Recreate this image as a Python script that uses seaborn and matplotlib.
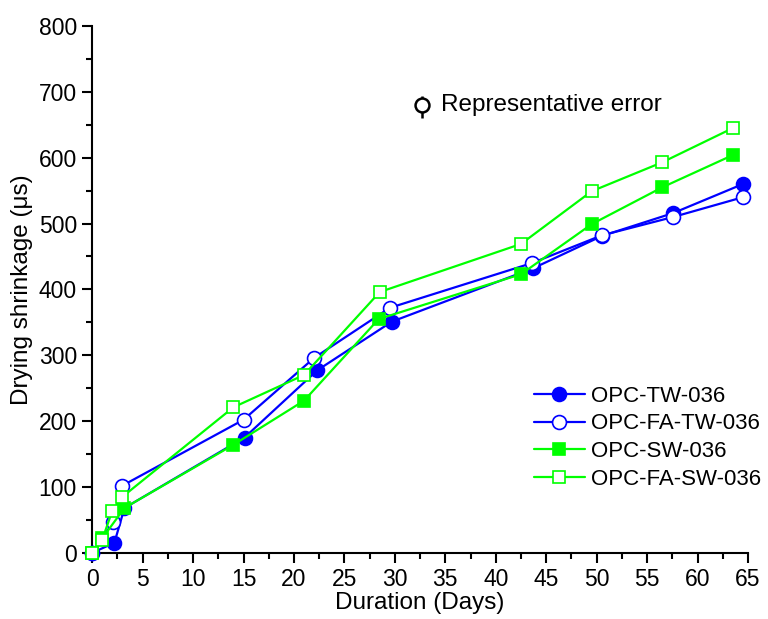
import pandas as pd
import matplotlib
matplotlib.use("Agg")
import matplotlib.pyplot as plt
import seaborn as sns
from matplotlib.ticker import MultipleLocator

sns.set_theme(style="ticks")
plt.rcParams["font.family"] = ["Liberation Sans", "DejaVu Sans"]
plt.rcParams["text.color"] = "black"
plt.rcParams["axes.labelcolor"] = "black"
plt.rcParams["xtick.color"] = "black"
plt.rcParams["ytick.color"] = "black"

tw_days = [0, 2.2, 3.2, 15.1, 22.3, 29.7, 43.7, 50.5, 57.6, 64.5]
tw_vals = [0, 15, 68, 175, 277, 351, 432, 481, 516, 560]

fa_tw_days = [0, 2.1, 3.0, 15.0, 22.0, 29.5, 43.6, 50.5, 57.6, 64.5]
fa_tw_vals = [0, 47, 102, 202, 296, 372, 440, 482, 510, 540]

sw_days = [0, 1.0, 3.2, 14.0, 21.0, 28.4, 42.5, 49.5, 56.5, 63.5]
sw_vals = [0, 22, 68, 164, 231, 355, 423, 499, 555, 604]

fa_sw_days = [0, 1.0, 2.0, 3.0, 14.0, 21.0, 28.5, 42.5, 49.5, 56.5, 63.5]
fa_sw_vals = [0, 20, 64, 85, 221, 270, 396, 469, 549, 593, 645]

series = [
    ("OPC-TW-036", tw_days, tw_vals, "#0000FF", "o", True),
    ("OPC-FA-TW-036", fa_tw_days, fa_tw_vals, "#0000FF", "o", False),
    ("OPC-SW-036", sw_days, sw_vals, "#00FF00", "s", True),
    ("OPC-FA-SW-036", fa_sw_days, fa_sw_vals, "#00FF00", "s", False),
]

fig = plt.figure(figsize=(7.68, 6.19), dpi=100)
ax = fig.add_axes([0.12, 0.107, 0.854, 0.851])

for name, days, vals, color, marker, filled in series:
    df = pd.DataFrame({"day": days, "val": vals})
    sns.lineplot(data=df, x="day", y="val", ax=ax, sort=False, label=name,
                 color=color, linewidth=1.6, marker=marker,
                 markersize=10 if marker == "o" else 9,
                 markerfacecolor=color if filled else "white",
                 markeredgecolor=color, markeredgewidth=1.2,
                 clip_on=False, zorder=3)

ax.set_xlim(0, 65)
ax.set_ylim(0, 800)
ax.xaxis.set_major_locator(MultipleLocator(5))
ax.xaxis.set_minor_locator(MultipleLocator(2.5))
ax.yaxis.set_major_locator(MultipleLocator(100))
ax.yaxis.set_minor_locator(MultipleLocator(50))
ax.tick_params(which="major", direction="out", length=7, width=1.5, labelsize=16.5,
               color="black", labelcolor="black", pad=4)
ax.tick_params(which="minor", direction="out", length=4, width=1.5, color="black")
for s in ["top", "right"]:
    ax.spines[s].set_visible(False)
for s in ["left", "bottom"]:
    ax.spines[s].set_linewidth(1.5)
    ax.spines[s].set_color("black")

ax.set_xlabel("Duration (Days)", fontsize=17.5, labelpad=1)
ax.set_ylabel("Drying shrinkage (\u03bcs)", fontsize=17.5, labelpad=4)

# representative error symbol
ax.errorbar([0.503], [0.85], yerr=[[0.025], [0.018]], transform=ax.transAxes,
            fmt="o", color="black", mfc="white", mec="black", markersize=10,
            mew=1.8, elinewidth=1.8, capsize=0, clip_on=False)
ax.text(0.532, 0.85, "Representative error", transform=ax.transAxes,
        fontsize=17.5, va="center", ha="left")

ax.legend(loc="upper left", bbox_to_anchor=(0.673, 0.317), frameon=False,
          fontsize=16, handlelength=2.3, handletextpad=0.3, labelspacing=0.3,
          borderaxespad=0, borderpad=0)

fig.savefig("out.png", dpi=100)
